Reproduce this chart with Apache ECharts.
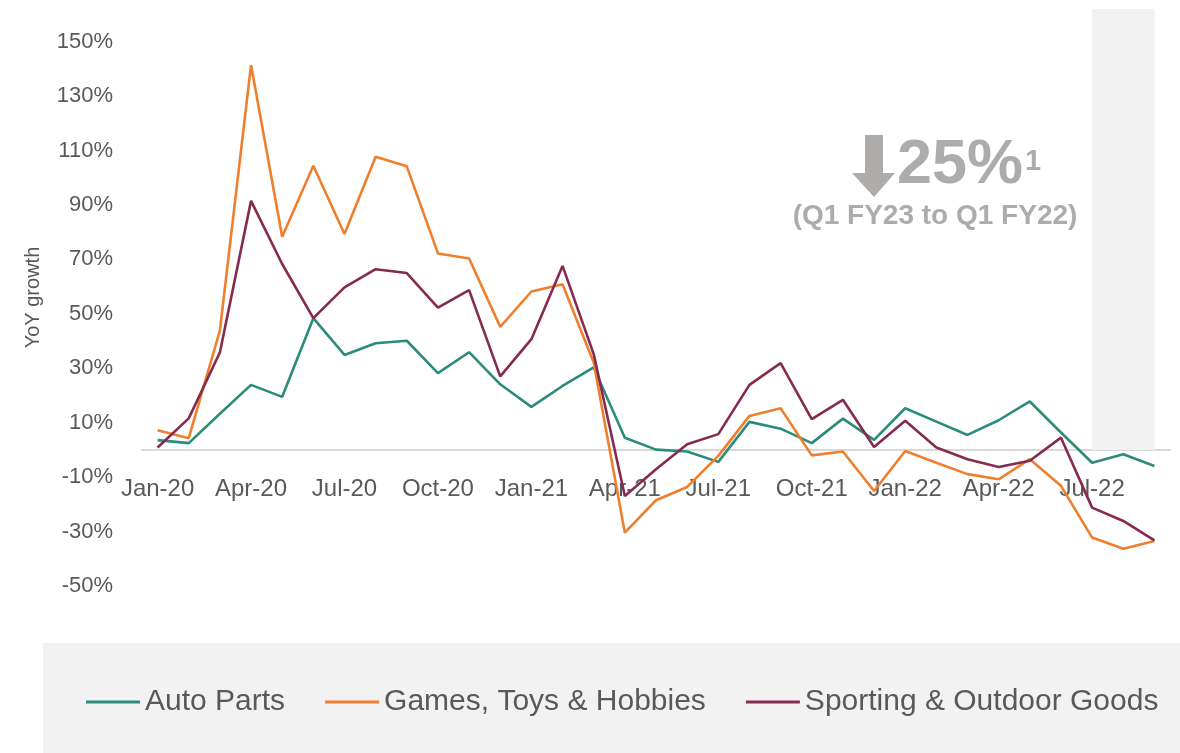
<!DOCTYPE html>
<html lang="en">
<head>
<meta charset="UTF-8">
<title>YoY growth</title>
<script src="https://cdn.jsdelivr.net/npm/echarts@6/dist/echarts.min.js"></script>
<style>
  html, body { margin: 0; padding: 0; background: #fff; }
  #chart { width: 1180px; height: 753px; }
</style>
</head>
<body>
<div id="chart"></div>
<script>
// months Jan-20 .. Sep-22
var months = ['Jan-20','Feb-20','Mar-20','Apr-20','May-20','Jun-20','Jul-20','Aug-20','Sep-20','Oct-20','Nov-20','Dec-20',
              'Jan-21','Feb-21','Mar-21','Apr-21','May-21','Jun-21','Jul-21','Aug-21','Sep-21','Oct-21','Nov-21','Dec-21',
              'Jan-22','Feb-22','Mar-22','Apr-22','May-22','Jun-22','Jul-22','Aug-22','Sep-22'];

// YoY growth, %
var autoParts = [3.6, 2.5, 13.3, 23.9, 19.5, 48.4, 34.9, 39.2, 40.1, 28.2, 35.9, 24.1,
                 15.8, 23.5, 30.3, 4.5, 0.1, -0.6, -4.4, 10.3, 7.8, 2.5, 11.5, 3.7,
                 15.3, 10.4, 5.5, 10.9, 17.8, 6.4, -4.7, -1.6, -5.9];
var gamesToys = [7.2, 4.3, 43.8, 141.4, 78.3, 104.4, 79.3, 107.7, 104.2, 72.2, 70.3, 45.2,
                 58.2, 60.9, 32.1, -30.4, -18.5, -13.6, -2.2, 12.5, 15.3, -2.0, -0.6, -15.1,
                 -0.4, -4.7, -8.9, -10.8, -3.4, -13.2, -32.2, -36.3, -33.5];
var sporting  = [0.9, 11.6, 35.8, 91.5, 68.3, 48.4, 59.7, 66.4, 65.0, 52.3, 58.7, 27.0,
                 40.7, 67.6, 35.2, -16.9, -7.1, 2.1, 5.8, 23.9, 31.9, 11.3, 18.4, 1.1,
                 10.7, 0.9, -3.4, -6.3, -4.0, 4.5, -21.2, -26.1, -33.2];

var seriesNames = ['Auto Parts', 'Games, Toys & Hobbies', 'Sporting & Outdoor Goods'];
var colors = ['#2b8c7b', '#ef7f2d', '#852a50'];

// shaded latest quarter
var shadeFrom = 'Jul-22', shadeTo = 'Sep-22';

var font = '"Liberation Sans", Arial, sans-serif';
var textGrey = '#595959';
var noteGrey = '#aeabab';
var yMin = -50, yMax = 162;

var chart = echarts.init(document.getElementById('chart'));

function lineSeries(name, data, color, extra) {
  var s = {
    name: name,
    type: 'line',
    data: data,
    symbol: 'none',
    lineStyle: { color: color, width: 2.6 },
    itemStyle: { color: color },
    z: 3
  };
  if (extra) { for (var k in extra) s[k] = extra[k]; }
  return s;
}

var option = {
  animation: false,
  textStyle: { fontFamily: font },
  grid: { left: 142, right: 10, top: 9, bottom: 167 },
  legend: {
    data: seriesNames,
    left: 86,
    top: 687,
    padding: 0,
    icon: 'rect',
    itemWidth: 54,
    itemHeight: 3,
    itemGap: 40,
    textStyle: { fontSize: 30, color: textGrey, fontFamily: font }
  },
  xAxis: {
    type: 'category',
    data: months,
    boundaryGap: true,
    axisLine: { onZero: true, lineStyle: { color: '#d9d9d9', width: 2 } },
    axisTick: { show: false },
    // labels sit just under the zero line
    axisLabel: { interval: 2, fontSize: 24, color: textGrey, margin: -109 },
    splitLine: { show: false }
  },
  yAxis: {
    type: 'value',
    min: yMin,
    max: yMax,
    interval: 10,
    name: 'YoY growth',
    nameLocation: 'middle',
    nameGap: 99,
    nameTextStyle: { fontSize: 20, color: textGrey },
    axisLine: { show: false },
    axisTick: { show: false },
    splitLine: { show: false },
    axisLabel: {
      fontSize: 22,
      color: textGrey,
      margin: 29,
      formatter: function (v) {
        if (v > 150) return '';
        return (Math.round(v / 10) % 2 !== 0) ? v + '%' : '';
      }
    }
  },
  graphic: [
    { type: 'rect', left: 43, top: 643, shape: { width: 1137, height: 110 }, style: { fill: '#f2f2f2' }, z: -10 },
    { type: 'polygon', shape: { points: [[865, 135], [883, 135], [883, 173], [895, 173], [874, 197], [852, 173], [865, 173]] },
      style: { fill: noteGrey } },
    { type: 'text', x: 897, y: 166, style: { text: '25%', font: 'bold 63px ' + font, fill: noteGrey, textVerticalAlign: 'middle' } },
    { type: 'text', x: 1025, y: 162, style: { text: '1', font: 'bold 29px ' + font, fill: noteGrey, textVerticalAlign: 'middle' } },
    { type: 'text', x: 935, y: 216, style: { text: '(Q1 FY23 to Q1 FY22)', font: 'bold 28px ' + font, fill: noteGrey, textAlign: 'center', textVerticalAlign: 'middle' } }
  ],
  series: [
    lineSeries(seriesNames[0], autoParts, colors[0], {
      markArea: {
        silent: true,
        itemStyle: { color: '#f2f2f2' },
        data: [[{ xAxis: shadeFrom, yAxis: 0 }, { xAxis: shadeTo, yAxis: yMax }]],
        z: 1
      }
    }),
    lineSeries(seriesNames[1], gamesToys, colors[1]),
    lineSeries(seriesNames[2], sporting, colors[2])
  ]
};

chart.setOption(option);
</script>
</body>
</html>
